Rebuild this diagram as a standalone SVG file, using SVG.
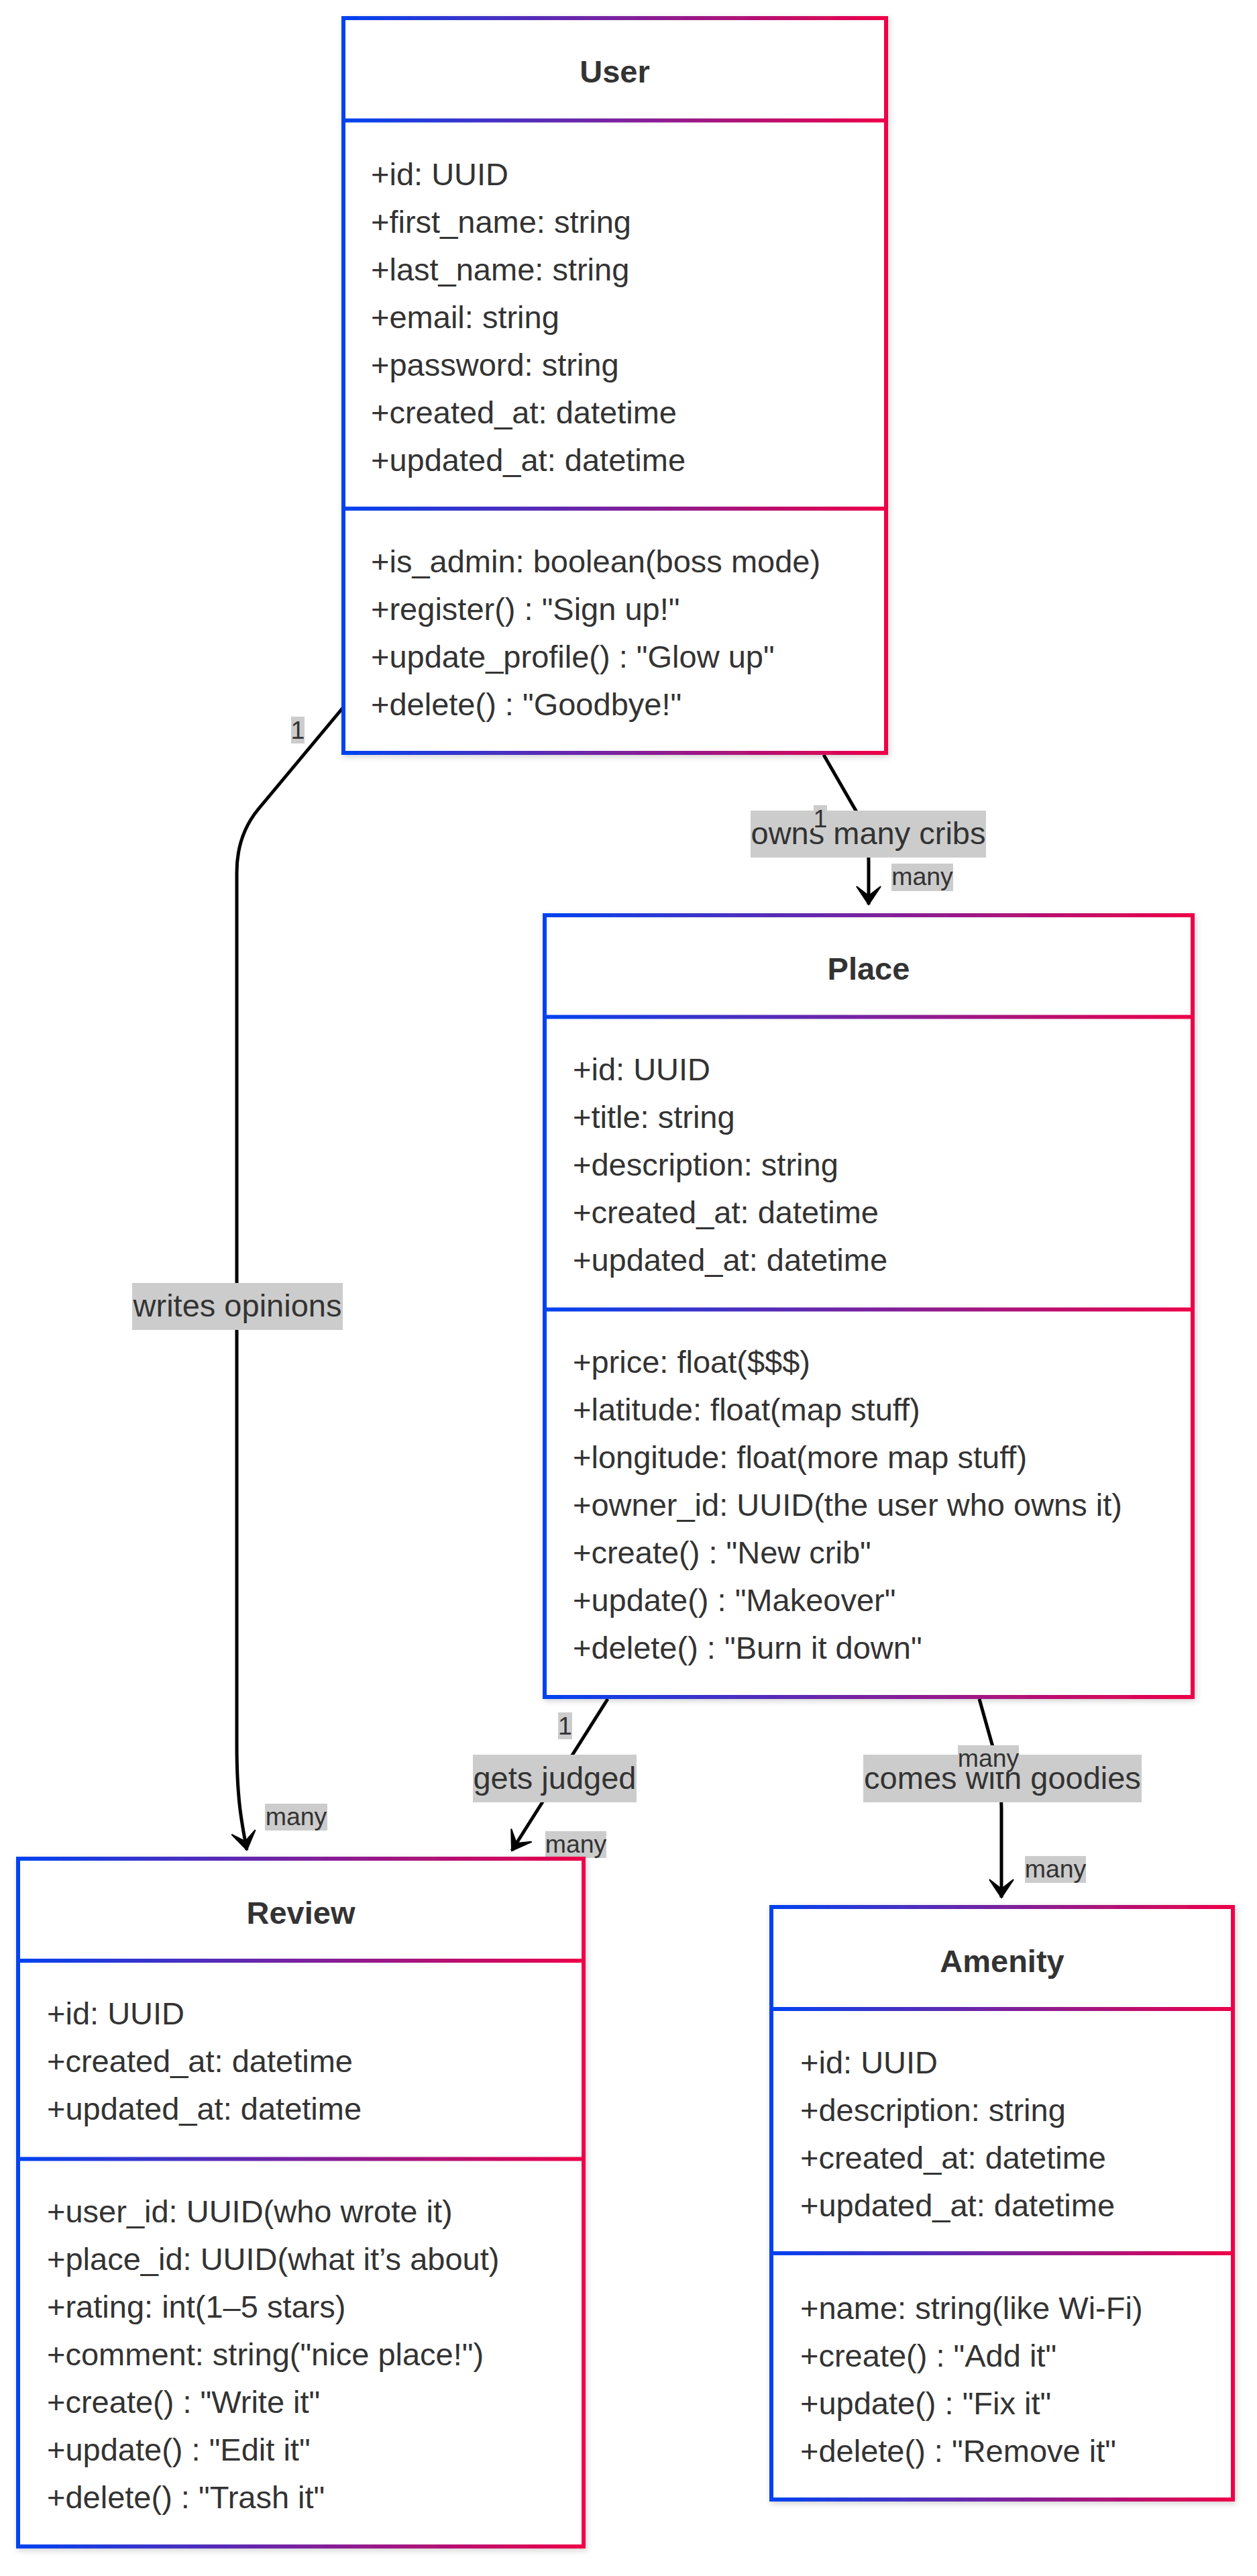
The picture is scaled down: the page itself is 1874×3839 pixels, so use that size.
<svg xmlns="http://www.w3.org/2000/svg" width="1874" height="3839" viewBox="0 0 1874 3839">
<defs>
  <linearGradient id="grad" x1="0" y1="0" x2="1" y2="0">
    <stop offset="0" stop-color="#0043f2"/>
    <stop offset="0.5" stop-color="#7a22a0"/>
    <stop offset="1" stop-color="#ee0048"/>
  </linearGradient>
  <filter id="shadow" x="-5%" y="-5%" width="110%" height="110%">
    <feDropShadow dx="2" dy="3" stdDeviation="4" flood-color="#000" flood-opacity="0.18"/>
  </filter>
  <marker id="arrow" markerUnits="userSpaceOnUse" markerWidth="40" markerHeight="44" viewBox="-30 -22 34 44" refX="0" refY="0" orient="auto">
    <path d="M0,0 L-27,-18 L-13,0 L-27,18 Z" fill="#000" stroke="#000" stroke-width="2" stroke-linejoin="miter"/>
  </marker>
  <style>
    .box { fill: #fff; stroke: url(#grad); stroke-width: 6; filter: url(#shadow); }
    .div { fill: url(#grad); }
    .title { font-family: "Liberation Sans", Arial, sans-serif; font-size: 47px; font-weight: bold; fill: #333; text-anchor: middle; }
    .mem { font-family: "Liberation Sans", Arial, sans-serif; font-size: 47px; fill: #333; }
    .edge { fill: none; stroke: #000; stroke-width: 5; }
    .lblbg { fill: #cccccc; }
    .lbl { font-family: "Liberation Sans", Arial, sans-serif; font-size: 47px; fill: #333; text-anchor: middle; }
    .card { font-family: "Liberation Sans", Arial, sans-serif; font-size: 37.5px; fill: #333; text-anchor: middle; }
  </style>
</defs>
<rect width="1874" height="3839" fill="#fff"/>

<g id="connectors">
  <path class="edge" d="M511,1055 L385,1206 Q353,1245 353,1300 L353,2600 C353,2680 360,2715 368,2757" marker-end="url(#arrow)"/>
  <path class="edge" d="M1228,1125 L1280,1215 Q1295,1245 1295,1285 L1295,1348" marker-end="url(#arrow)"/>
  <path class="edge" d="M906,2532 L763,2758" marker-end="url(#arrow)"/>
  <path class="edge" d="M1460,2532 L1482,2610 Q1493,2650 1493,2695 L1493,2828" marker-end="url(#arrow)"/>
</g>

<g id="edge-labels">
  <rect class="lblbg" x="197" y="1912" width="314" height="70"/>
  <text class="lbl" x="354" y="1962">writes opinions</text>
  <rect class="lblbg" x="1119" y="1208" width="351" height="70"/>
  <text class="lbl" x="1294.5" y="1258">owns many cribs</text>
  <rect class="lblbg" x="705" y="2615" width="244" height="71"/>
  <text class="lbl" x="827" y="2666">gets judged</text>
  <rect class="lblbg" x="1287" y="2615" width="415" height="71"/>
  <text class="lbl" x="1494.5" y="2666">comes with goodies</text>
</g>

<g id="cardinality-labels">
  <rect class="lblbg" x="434" y="1068" width="20" height="40"/>
  <text class="card" x="444" y="1101">1</text>
  <rect class="lblbg" x="1213" y="1200" width="20" height="40"/>
  <text class="card" x="1223" y="1233">1</text>
  <rect class="lblbg" x="1329" y="1287" width="92" height="41"/>
  <text class="card" x="1375" y="1319">many</text>
  <rect class="lblbg" x="832" y="2552" width="21" height="40"/>
  <text class="card" x="842.5" y="2585">1</text>
  <rect class="lblbg" x="813" y="2729" width="91" height="40"/>
  <text class="card" x="858.5" y="2761">many</text>
  <rect class="lblbg" x="395" y="2688" width="93" height="40"/>
  <text class="card" x="441.5" y="2720">many</text>
  <rect class="lblbg" x="1428" y="2601" width="91" height="40"/>
  <text class="card" x="1473.5" y="2633">many</text>
  <rect class="lblbg" x="1528" y="2766" width="91" height="40"/>
  <text class="card" x="1573.5" y="2798">many</text>
</g>

<g id="node-User">
  <rect class="box" x="512" y="27" width="809" height="1095"/>
  <rect class="div" x="509" y="176.5" width="815" height="6"/>
  <rect class="div" x="509" y="755" width="815" height="6"/>
  <text class="title" x="916.5" y="123">User</text>
  <text class="mem" x="553" y="276">+id: UUID</text>
  <text class="mem" x="553" y="347">+first_name: string</text>
  <text class="mem" x="553" y="418">+last_name: string</text>
  <text class="mem" x="553" y="489">+email: string</text>
  <text class="mem" x="553" y="560">+password: string</text>
  <text class="mem" x="553" y="631">+created_at: datetime</text>
  <text class="mem" x="553" y="702">+updated_at: datetime</text>
  <text class="mem" x="553" y="853">+is_admin: boolean(boss mode)</text>
  <text class="mem" x="553" y="924">+register() : "Sign up!"</text>
  <text class="mem" x="553" y="995">+update_profile() : "Glow up"</text>
  <text class="mem" x="553" y="1066">+delete() : "Goodbye!"</text>
</g>

<g id="node-Place">
  <rect class="box" x="812" y="1364" width="966" height="1165"/>
  <rect class="div" x="809" y="1512.5" width="972" height="6"/>
  <rect class="div" x="809" y="1948.5" width="972" height="6"/>
  <text class="title" x="1295" y="1460">Place</text>
  <text class="mem" x="854" y="1610">+id: UUID</text>
  <text class="mem" x="854" y="1681">+title: string</text>
  <text class="mem" x="854" y="1752">+description: string</text>
  <text class="mem" x="854" y="1823">+created_at: datetime</text>
  <text class="mem" x="854" y="1894">+updated_at: datetime</text>
  <text class="mem" x="854" y="2046">+price: float($$$)</text>
  <text class="mem" x="854" y="2117">+latitude: float(map stuff)</text>
  <text class="mem" x="854" y="2188">+longitude: float(more map stuff)</text>
  <text class="mem" x="854" y="2259">+owner_id: UUID(the user who owns it)</text>
  <text class="mem" x="854" y="2330">+create() : "New crib"</text>
  <text class="mem" x="854" y="2401">+update() : "Makeover"</text>
  <text class="mem" x="854" y="2472">+delete() : "Burn it down"</text>
</g>

<g id="node-Review">
  <rect class="box" x="27" y="2770" width="843" height="1025"/>
  <rect class="div" x="24" y="2919" width="849" height="6"/>
  <rect class="div" x="24" y="3214.5" width="849" height="6"/>
  <text class="title" x="448.5" y="2867">Review</text>
  <text class="mem" x="70" y="3017">+id: UUID</text>
  <text class="mem" x="70" y="3088">+created_at: datetime</text>
  <text class="mem" x="70" y="3159">+updated_at: datetime</text>
  <text class="mem" x="70" y="3312">+user_id: UUID(who wrote it)</text>
  <text class="mem" x="70" y="3383">+place_id: UUID(what it’s about)</text>
  <text class="mem" x="70" y="3454">+rating: int(1–5 stars)</text>
  <text class="mem" x="70" y="3525">+comment: string("nice place!")</text>
  <text class="mem" x="70" y="3596">+create() : "Write it"</text>
  <text class="mem" x="70" y="3667">+update() : "Edit it"</text>
  <text class="mem" x="70" y="3738">+delete() : "Trash it"</text>
</g>

<g id="node-Amenity">
  <rect class="box" x="1150" y="2842" width="688" height="883"/>
  <rect class="div" x="1147" y="2991" width="694" height="6"/>
  <rect class="div" x="1147" y="3355" width="694" height="6"/>
  <text class="title" x="1494" y="2939">Amenity</text>
  <text class="mem" x="1193" y="3090">+id: UUID</text>
  <text class="mem" x="1193" y="3161">+description: string</text>
  <text class="mem" x="1193" y="3232">+created_at: datetime</text>
  <text class="mem" x="1193" y="3303">+updated_at: datetime</text>
  <text class="mem" x="1193" y="3456">+name: string(like Wi-Fi)</text>
  <text class="mem" x="1193" y="3527">+create() : "Add it"</text>
  <text class="mem" x="1193" y="3598">+update() : "Fix it"</text>
  <text class="mem" x="1193" y="3669">+delete() : "Remove it"</text>
</g>
</svg>
